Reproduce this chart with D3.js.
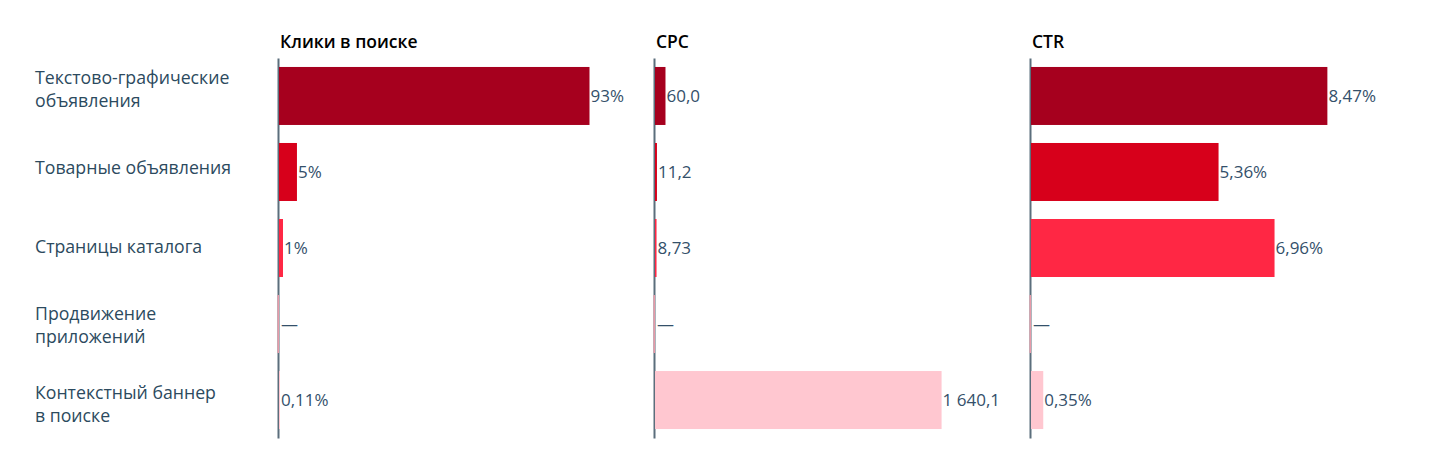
<!DOCTYPE html>
<html>
<head>
<meta charset="utf-8">
<script src="https://cdn.jsdelivr.net/npm/d3@7"></script>
<style>
  body { margin: 0; background: #fff; }
  text { font-family: "Open Sans", "Noto Sans", sans-serif; }
</style>
</head>
<body>
<svg id="chart" width="1429" height="468"></svg>
<script>
// row categories (line breaks marked with \n)
var categories = [
	"Текстово-графические\nобъявления",
	"Товарные объявления",
	"Страницы каталога",
	"Продвижение\nприложений",
	"Контекстный баннер\nв поиске"
];
var rowColors = ["#a6001e", "#d7001b", "#ff2744", "#e79aa8", "#ffc7d0"];

// metric titles and values (null = no data)
var metrics = ["Клики в поиске", "CPC", "CTR"];
var clicks = [93.4, 5.4, 1.2, null, 0.11];
var cpc = [60.0, 11.2, 8.73, null, 1640.1];
var ctr = [8.47, 5.36, 6.96, null, 0.35];

var ru = d3.formatLocale({ decimal: ",", thousands: " ", grouping: [3], currency: ["", " ₽"] });
var formats = [
	function (v) { return v < 1 ? ru.format(".2f")(v) + "%" : ru.format(".0f")(v) + "%"; },
	function (v) { return v >= 100 ? ru.format(",.1f")(v) : (v >= 10 ? ru.format(".1f")(v) : ru.format(".2f")(v)); },
	function (v) { return ru.format(".2f")(v) + "%"; }
];
var series = [clicks, cpc, ctr];

var svg = d3.select("#chart");
var panelX = [278, 654, 1030], panelW = 376;

// shared row scale for bars
var y = d3.scaleBand()
	.domain(d3.range(categories.length))
	.range([58, 438])
	.paddingInner(0.237)
	.paddingOuter(0.118);

// row scale of the label column (slightly taller rows)
var yl = d3.scaleBand()
	.domain(d3.range(categories.length))
	.range([50, 444]);

// category labels
var cat = svg.append("g").attr("class", "categories");
categories.forEach(function (c, i) {
	var lines = c.split("\n");
	var t = cat.append("text")
		.attr("x", 35)
		.attr("y", yl(i) + yl.bandwidth() / 2)
		.attr("fill", "#2c4a5e")
		.style("font-size", "17.7px");
	lines.forEach(function (l, j) {
		t.append("tspan")
			.attr("x", 35)
			.attr("dy", j === 0 ? ((-(lines.length - 1) * 23) / 2 + 6) + "px" : "23px")
			.text(l);
	});
});

series.forEach(function (values, k) {
	var g = svg.append("g").attr("transform", "translate(" + panelX[k] + ",0)");
	var fmt = formats[k];

	// title
	g.append("text")
		.attr("x", 2)
		.attr("y", 48)
		.attr("fill", "#000")
		.style("font-size", "17.5px")
		.style("font-weight", 600)
		.text(metrics[k]);

	// label width of the largest value drives the bar range
	var maxV = d3.max(values);
	var probe = g.append("text").style("font-size", "17px").text(fmt(maxV));
	var lw = probe.node().getComputedTextLength();
	probe.remove();
	var x = d3.scaleLinear().domain([0, maxV]).range([0, panelW - lw - 32]);

	// axis line
	g.append("g")
		.call(d3.axisLeft(y).tickSize(0).tickFormat(""))
		.call(function (a) { a.select(".domain").attr("stroke", "#5b6e7c").attr("stroke-width", 2); });

	// bars
	g.selectAll("rect.bar")
		.data(values)
		.enter().append("rect")
		.attr("class", "bar")
		.attr("x", function (d) { return d == null ? -0.5 : 1; })
		.attr("y", function (d, i) { return y(i); })
		.attr("height", y.bandwidth())
		.attr("width", function (d) { return d == null ? 1.5 : Math.max(1, x(d)); })
		.attr("fill", function (d, i) { return rowColors[i]; });

	// value labels
	g.selectAll("text.val")
		.data(values)
		.enter().append("text")
		.attr("class", "val")
		.attr("x", function (d) { return d == null ? 3 : Math.max(1, x(d)) + 2; })
		.attr("y", function (d, i) { return y(i) + y.bandwidth() / 2 + 6; })
		.attr("fill", "#34506a")
		.style("font-size", "17px")
		.text(function (d) { return d == null ? "—" : fmt(d); });
});
</script>
</body>
</html>
